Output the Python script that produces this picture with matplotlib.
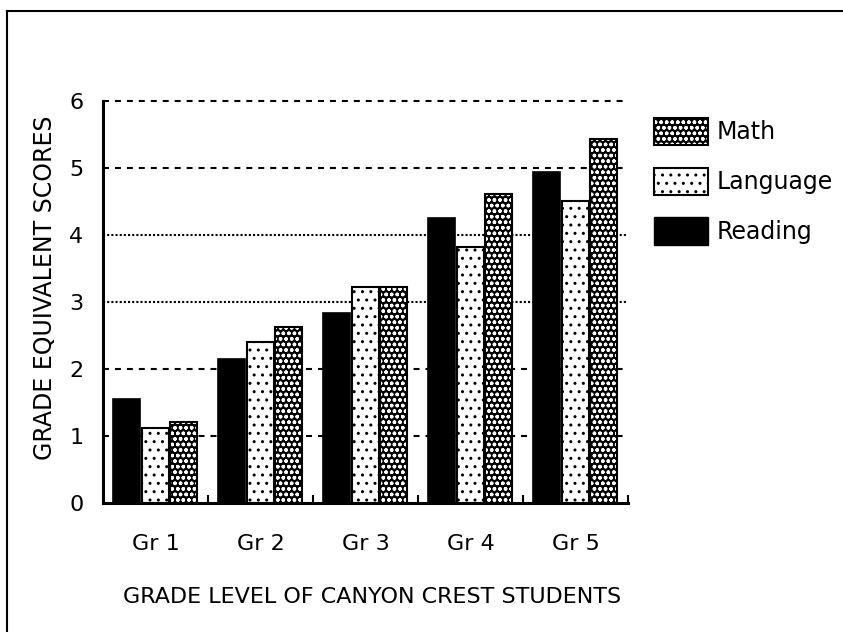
import matplotlib
matplotlib.use("Agg")
import matplotlib.pyplot as plt
import numpy as np
from matplotlib.patches import Patch
from matplotlib.lines import Line2D

# data
grades = ["Gr 1", "Gr 2", "Gr 3", "Gr 4", "Gr 5"]
reading = [1.55, 2.15, 2.83, 4.25, 4.94]
language = [1.12, 2.4, 3.22, 3.82, 4.51]
math = [1.21, 2.63, 3.22, 4.61, 5.43]
yticks = [0, 1, 2, 3, 4, 5, 6]

plt.rcParams['font.family'] = ['DejaVu Sans']
plt.rcParams['lines.scale_dashes'] = False

fig = plt.figure(figsize=(8.43, 6.32), dpi=100)
ax = fig.add_axes([103 / 843, 129 / 632, 525 / 843, 402 / 632])

x = np.arange(len(grades))
w = 0.26

# grid lines behind the bars
for yv in yticks[1:]:
    if yv in (3, 4):
        ax.axhline(yv, color='black', lw=1.5, dashes=(1.5, 1.5), zorder=0, clip_on=False)
    else:
        ax.axhline(yv, color='black', lw=1.5, dashes=(4.3, 4.3), zorder=0, clip_on=False)

ax.bar(x - 0.275, reading, w, color='black', edgecolor='black', lw=1.2, zorder=2)
ax.bar(x, language, w, color='white', edgecolor='black', hatch='..', lw=1.5, zorder=2)
ax.bar(x + 0.265, math, w, color='black', edgecolor='white', hatch='ooo', lw=0, zorder=2)
ax.bar(x + 0.265, math, w, fill=False, edgecolor='black', lw=1.5, zorder=3)

ax.set_xlim(-0.5, 4.5)
ax.set_ylim(0, 6)
ax.set_yticks(yticks)
ax.set_xticks(x)
ax.set_xticklabels(grades)
ax.set_xticks(np.arange(0.5, 5, 1), minor=True)
ax.tick_params(axis='x', which='major', length=0, pad=22, labelsize=16)
ax.tick_params(axis='x', which='minor', direction='in', length=6, width=1.5)
ax.tick_params(axis='y', length=0, pad=14, labelsize=16)

for s in ['top', 'right']:
    ax.spines[s].set_visible(False)
for s in ['left', 'bottom']:
    ax.spines[s].set_linewidth(2.2)

ax.set_xlabel('GRADE LEVEL OF CANYON CREST STUDENTS', fontsize=16, va='center')
ax.xaxis.set_label_coords(0.513, (503 - 597) / 402)
ax.set_ylabel('GRADE EQUIVALENT SCORES', fontsize=17, va='center')
ax.yaxis.set_label_coords((45 - 103) / 525, (503 - 287.5) / 402)

# legend (Math on top)
h_math = (Patch(facecolor='black', edgecolor='white', hatch='ooo', lw=0),
          Patch(fill=False, edgecolor='black', lw=1.5))
h_lang = Patch(facecolor='white', edgecolor='black', hatch='..', lw=1.5)
h_read = Patch(facecolor='black', edgecolor='black')
fig.legend([h_math, h_lang, h_read], ['Math', 'Language', 'Reading'],
           loc='upper left', bbox_to_anchor=(654 / 843, 1 - 118 / 632),
           frameon=False, fontsize=17, handlelength=2.3, handleheight=1.4,
           labelspacing=0.95, handletextpad=0.35, borderpad=0, borderaxespad=0)

# frame lines along the left and top edges
fig.add_artist(Line2D([7 / 843, 7 / 843], [0, 1 - 11 / 632], color='black', lw=1.5))
fig.add_artist(Line2D([7 / 843, 1], [1 - 11 / 632, 1 - 11 / 632], color='black', lw=1.5))

fig.savefig('out.png', dpi=100)
